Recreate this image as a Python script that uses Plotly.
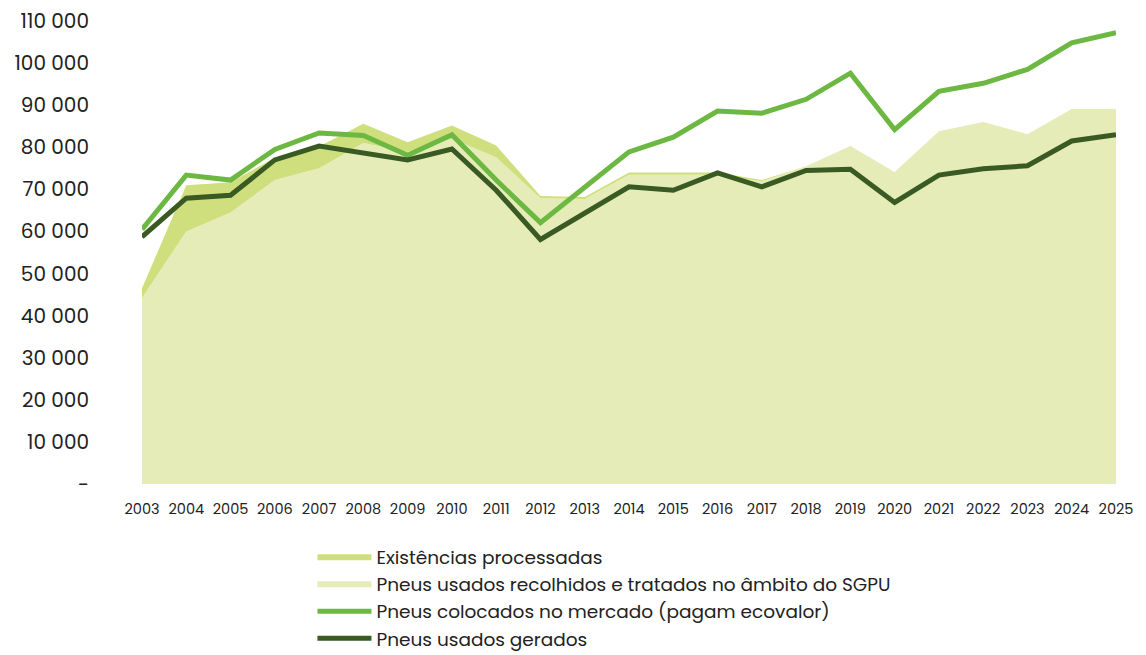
import plotly.graph_objects as go

years = list(range(2003, 2026))

# toneladas
recolhidos = [44200, 60000, 64500, 72200, 75000, 81000, 78900, 82000, 77600, 67900,
              67700, 73500, 73500, 73500, 71900, 75500, 80300, 74100, 83800, 86000,
              83100, 89100, 89100]
existencias = [2300, 11000, 7200, 5300, 5200, 4600, 2300, 3200, 2800, 500,
               500, 500, 500, 500, 300, 0, 0, 0, 0, 0,
               0, 0, 0]
colocados = [60500, 73400, 72200, 79500, 83400, 82800, 78100, 83000, 72200, 62100,
             70500, 78900, 82400, 88600, 88100, 91400, 97600, 84200, 93300, 95200,
             98500, 104800, 107200]
gerados = [58700, 67900, 68600, 77000, 80300, 78600, 77000, 79600, 69800, 58100,
           64400, 70600, 69800, 73900, 70600, 74500, 74800, 66900, 73400, 74900,
           75600, 81500, 83000]

y_ticks = list(range(0, 110001, 10000))
y_labels = ["-"] + [f"{v:,}".replace(",", " ") for v in y_ticks[1:]]

FONT = "Poppins, Inter, Lato, sans-serif"

fig = go.Figure()

fig.add_trace(go.Scatter(
    x=years, y=recolhidos, mode="none", stackgroup="areas",
    fillcolor="#e5ecb8", name="Pneus usados recolhidos e tratados no âmbito do SGPU",
    legendrank=2
))
fig.add_trace(go.Scatter(
    x=years, y=existencias, mode="none", stackgroup="areas",
    fillcolor="#cfdf7d", name="Existências processadas",
    legendrank=1
))
fig.add_trace(go.Scatter(
    x=years, y=colocados, mode="lines",
    line=dict(color="#6cb843", width=5),
    name="Pneus colocados no mercado (pagam ecovalor)",
    legendrank=3
))
fig.add_trace(go.Scatter(
    x=years, y=gerados, mode="lines",
    line=dict(color="#3a5a24", width=5),
    name="Pneus usados gerados",
    legendrank=4
))

# page body adds an 8px offset, margins compensate for it
fig.update_layout(
    width=1146, height=655,
    margin=dict(l=134, r=38, t=13, b=179, autoexpand=False),
    plot_bgcolor="white", paper_bgcolor="white",
    font=dict(family=FONT, color="#222222"),
    xaxis=dict(
        range=[2003, 2025], tickmode="array", tickvals=years,
        tickfont=dict(size=14.5), showgrid=False, zeroline=False,
        showline=False, ticklabelstandoff=14, automargin=False,
        ticklabeloverflow="allow"
    ),
    yaxis=dict(
        range=[0, 110000], tickmode="array", tickvals=y_ticks, ticktext=y_labels,
        tickfont=dict(size=20), showgrid=False, zeroline=False,
        showline=False, ticklabelstandoff=52, automargin=False,
        ticklabeloverflow="allow"
    ),
    legend=dict(
        x=0.175, y=-0.118, xanchor="left", yanchor="top",
        orientation="v", font=dict(size=18.5), tracegroupgap=0,
        traceorder="normal", itemwidth=54, bgcolor="rgba(0,0,0,0)"
    ),
    showlegend=True
)

fig.write_html("out.html")
